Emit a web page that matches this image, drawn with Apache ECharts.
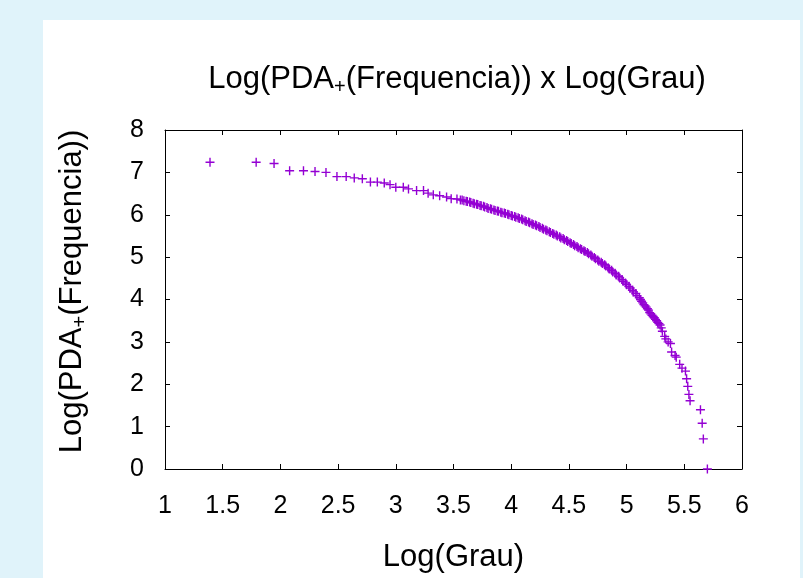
<!DOCTYPE html>
<html>
<head>
<meta charset="utf-8">
<script src="https://cdn.jsdelivr.net/npm/echarts@6/dist/echarts.min.js"></script>
<style>
html,body{margin:0;padding:0;background:#e0f3fa;}
#c{width:803px;height:578px;}
</style>
</head>
<body>
<div id="c"></div>
<script>
// Data: [Log(Grau), Log(PDA+(Frequencia))]
var xTicks = ['1','1.5','2','2.5','3','3.5','4','4.5','5','5.5','6'];
var yTicks = ['0','1','2','3','4','5','6','7','8'];
var headPoints = [
 [1.39,7.24],[1.79,7.24],[1.945,7.21],[2.08,7.04],[2.20,7.04],[2.30,7.02],[2.395,7.00],[2.49,6.90],
 [2.57,6.90],[2.64,6.87],[2.71,6.85],[2.78,6.77],[2.84,6.77],[2.90,6.75],[2.95,6.71],[3.00,6.65],
 [3.065,6.65],[3.11,6.61],[3.18,6.57],[3.24,6.57],[3.28,6.51],[3.325,6.47],[3.38,6.45],[3.44,6.42],
 [3.48,6.38],[3.53,6.37]
];
var densePoints = [
 [3.56,6.35],[3.575,6.35],[3.59,6.33],[3.61,6.32],[3.62,6.31],[3.64,6.30],[3.65,6.29],[3.67,6.27],
 [3.68,6.26],[3.70,6.25],[3.71,6.24],[3.73,6.22],[3.74,6.21],[3.76,6.20],[3.77,6.18],[3.79,6.17],
 [3.80,6.15],[3.82,6.14],[3.83,6.13],[3.85,6.11],[3.86,6.10],[3.88,6.09],[3.89,6.08],[3.91,6.06],
 [3.92,6.05],[3.94,6.04],[3.95,6.03],[3.97,6.01],[3.98,6.00],[4.00,5.98],[4.01,5.97],[4.03,5.96],
 [4.04,5.94],[4.06,5.93],[4.07,5.91],[4.09,5.90],[4.10,5.88],[4.12,5.86],[4.13,5.84],[4.15,5.83],
 [4.16,5.81],[4.18,5.79],[4.19,5.77],[4.21,5.76],[4.22,5.74],[4.24,5.72],[4.25,5.70],[4.27,5.68],
 [4.28,5.66],[4.30,5.64],[4.31,5.62],[4.33,5.60],[4.34,5.58],[4.36,5.56],[4.37,5.54],[4.39,5.52],
 [4.40,5.50],[4.42,5.48],[4.43,5.45],[4.45,5.44],[4.46,5.41],[4.48,5.39],[4.49,5.37],[4.51,5.34],
 [4.52,5.32],[4.54,5.30],[4.55,5.27],[4.57,5.25],[4.58,5.22],[4.60,5.20],[4.61,5.18],[4.63,5.15],
 [4.64,5.13],[4.66,5.11],[4.67,5.08],[4.69,5.05],[4.70,5.02],[4.72,4.99],[4.73,4.96],[4.75,4.93],
 [4.76,4.90],[4.78,4.88],[4.79,4.85],[4.81,4.82],[4.82,4.79],[4.84,4.75],[4.85,4.72],[4.87,4.69],
 [4.88,4.65],[4.90,4.62],[4.91,4.58],[4.93,4.55],[4.94,4.51],[4.96,4.47],[4.97,4.43],[4.99,4.39],
 [5.00,4.35],[5.02,4.31],[5.03,4.27],[5.05,4.22],[5.06,4.18],[5.08,4.14],[5.09,4.09],[5.11,4.04],
 [5.12,4.00],[5.13,3.96],[5.14,3.92],[5.15,3.88],[5.16,3.85],[5.17,3.82],[5.18,3.78],[5.19,3.75],
 [5.20,3.69],[5.21,3.66],[5.22,3.63],[5.23,3.60],[5.24,3.57],[5.25,3.53],[5.26,3.50],[5.27,3.46],
 [5.28,3.43],[5.29,3.40],[5.30,3.33],[5.31,3.25]
];
var tailPoints = [
 [5.33,3.13],[5.34,3.07],[5.36,3.00],[5.38,2.96],[5.39,2.76],[5.42,2.68],[5.43,2.64],[5.46,2.47],
 [5.48,2.38],[5.51,2.31],[5.52,2.13],[5.53,1.95],[5.54,1.76],[5.55,1.61],[5.64,1.40],[5.655,1.08],
 [5.665,0.71],[5.70,0.00]
];

var FONT = 'Liberation Sans';
var PURPLE = '#9400d3';
var pts = headPoints.concat(densePoints, tailPoints);

var chart = echarts.init(document.getElementById('c'), null, {renderer:'canvas'});
var baseAxis = {
  type:'value',
  axisLine:{show:true, onZero:false, lineStyle:{color:'#000', width:1}},
  axisTick:{show:true, inside:true, length:5, lineStyle:{color:'#000', width:1}},
  splitLine:{show:false}
};
function ax(extra){ return Object.assign({}, JSON.parse(JSON.stringify(baseAxis)), extra); }
var richSub = {
  n:{fontFamily:FONT, fontSize:31, fontWeight:'normal', color:'#000', lineHeight:36},
  s:{fontFamily:FONT, fontSize:20, fontWeight:'normal', color:'#000', lineHeight:15, verticalAlign:'bottom'}
};

chart.setOption({
  animation:false,
  backgroundColor:'transparent',
  graphic:[{type:'rect', z:-10, silent:true, shape:{x:43,y:20,width:757,height:558}, style:{fill:'#ffffff'}}],
  title:{
    text:'{n|Log(PDA}{s|+}{n|(Frequencia)) x Log(Grau)}',
    left:452, top:56, textAlign:'center',
    textStyle:{fontWeight:'normal', rich:richSub}
  },
  grid:{left:165, top:130, right:61, bottom:108, containLabel:false},
  xAxis:[
    ax({position:'bottom', min:1, max:6, interval:0.5,
      axisLabel:{show:true, color:'#000', fontFamily:FONT, fontSize:25, margin:25,
        formatter:function(v){ return xTicks[Math.round((v-1)/0.5)]; }},
      name:'Log(Grau)', nameLocation:'middle', nameGap:73,
      nameTextStyle:{fontFamily:FONT, fontSize:31, color:'#000'}}),
    ax({position:'top', min:1, max:6, interval:0.5, axisLabel:{show:false}})
  ],
  yAxis:[
    ax({position:'left', min:0, max:8, interval:1,
      axisLabel:{show:true, color:'#000', fontFamily:FONT, fontSize:25, margin:21,
        formatter:function(v){ return yTicks[Math.round(v)]; }},
      name:'{n|Log(PDA}{s|+}{n|(Frequencia))}', nameLocation:'middle', nameGap:75, nameRotate:90,
      nameTextStyle:{padding:[0,0,0,16], rich:richSub}}),
    ax({position:'right', min:0, max:8, interval:1, axisLabel:{show:false}})
  ],
  series:[{
    type:'scatter', xAxisIndex:0, yAxisIndex:0,
    data:pts,
    symbol:'path://M5 0L5 10M0 5L10 5',
    symbolSize:9,
    clip:false,
    itemStyle:{color:'rgba(0,0,0,0)', borderColor:PURPLE, borderWidth:1.4, opacity:1}
  }]
});
</script>
</body>
</html>
